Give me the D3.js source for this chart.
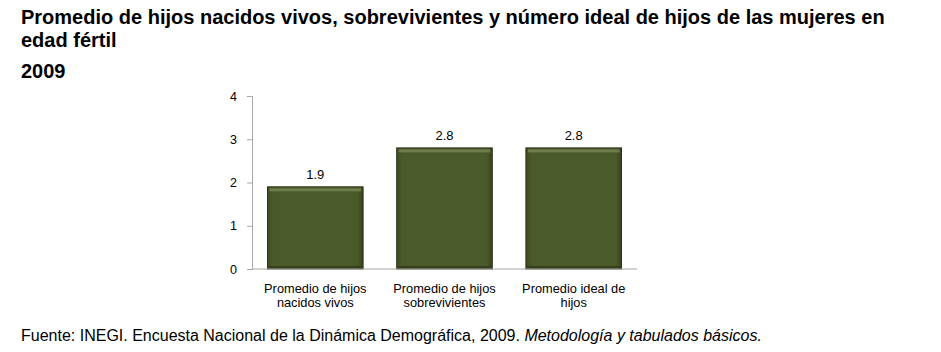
<!DOCTYPE html>
<html>
<head>
<meta charset="utf-8">
<script src="https://cdn.jsdelivr.net/npm/d3@7"></script>
<style>
  body { margin: 0; background: #fff; font-family: "Liberation Sans", Arial, sans-serif; }
  .title { font-weight: bold; font-size: 20px; fill: #000; }
  .tick-label { font-size: 12.5px; fill: #000; }
  .cat-label { font-size: 12.8px; fill: #000; }
  .val-label { font-size: 13px; fill: #000; }
  .source { font-size: 16px; fill: #000; }
</style>
</head>
<body>
<div id="chart"></div>
<script>
const categories = [
  ['Promedio de hijos', 'nacidos vivos'],
  ['Promedio de hijos', 'sobrevivientes'],
  ['Promedio ideal de', 'hijos']
];
const values = [1.9, 2.8, 2.8];
const yTicks = [0, 1, 2, 3, 4];

const width = 941, height = 352;
const margins = { top: 96, right: 304, bottom: 83, left: 252 };

const svg = d3.select('#chart')
  .append('svg')
    .attr('width', width)
    .attr('height', height);

// bevel-ish look for the bars
const defs = svg.append('defs');
const grad = defs.append('linearGradient')
  .attr('id', 'barGrad')
  .attr('x1', 0).attr('y1', 0).attr('x2', 1).attr('y2', 0);
grad.append('stop').attr('offset', '0%').attr('stop-color', '#3d4b22');
grad.append('stop').attr('offset', '6%').attr('stop-color', '#4b5a2b');
grad.append('stop').attr('offset', '94%').attr('stop-color', '#4b5a2b');
grad.append('stop').attr('offset', '100%').attr('stop-color', '#36421d');

// titles
svg.append('text').attr('class', 'title').attr('x', 21).attr('y', 24)
  .text('Promedio de hijos nacidos vivos, sobrevivientes y número ideal de hijos de las mujeres en');
svg.append('text').attr('class', 'title').attr('x', 21).attr('y', 47)
  .text('edad fértil');
svg.append('text').attr('class', 'title').attr('x', 21).attr('y', 78)
  .text('2009');

const x = d3.scaleBand()
  .domain(d3.range(categories.length))
  .range([margins.left, width - margins.right])
  .paddingInner(0.26)
  .paddingOuter(0.12);

const y = d3.scaleLinear()
  .domain([0, 4])
  .range([height - margins.bottom, margins.top]);

// y axis
const yAxis = svg.append('g')
  .attr('transform', `translate(${margins.left},0)`)
  .call(d3.axisLeft(y).tickValues(yTicks).tickSize(5).tickPadding(10).tickFormat(d3.format('d')));
yAxis.select('.domain').attr('stroke', '#a6a6a6');
yAxis.selectAll('.tick line').attr('stroke', '#a6a6a6');
yAxis.selectAll('.tick text').attr('class', 'tick-label').attr('font-family', null).attr('font-size', null);

// bars
const bars = svg.append('g');
values.forEach((v, i) => {
  const bx = x(i), bw = x.bandwidth(), by = y(v), bh = y(0) - y(v);
  bars.append('rect')
    .attr('x', bx).attr('y', by).attr('width', bw).attr('height', bh)
    .attr('fill', 'url(#barGrad)')
    .attr('stroke', '#2c3616').attr('stroke-width', 1);
  // top highlight
  bars.append('rect')
    .attr('x', bx + 2).attr('y', by + 1.5).attr('width', bw - 4).attr('height', 3)
    .attr('fill', '#6f7d4c');
  // bottom shade
  bars.append('rect')
    .attr('x', bx + 1).attr('y', by + bh - 3).attr('width', bw - 2).attr('height', 2.5)
    .attr('fill', '#333f1b');
  svg.append('text')
    .attr('class', 'val-label')
    .attr('x', bx + bw / 2)
    .attr('y', by - 8)
    .attr('text-anchor', 'middle')
    .text(d3.format('.1f')(v));
});

// x axis line
const baseY = y(0);
svg.append('line')
  .attr('x1', margins.left).attr('x2', width - margins.right)
  .attr('y1', baseY).attr('y2', baseY)
  .attr('stroke', '#a6a6a6');

// category labels
categories.forEach((lines, i) => {
  const t = svg.append('text')
    .attr('class', 'cat-label')
    .attr('text-anchor', 'middle')
    .attr('x', x(i) + x.bandwidth() / 2)
    .attr('y', baseY + 24);
  lines.forEach((l, j) => {
    t.append('tspan')
      .attr('x', x(i) + x.bandwidth() / 2)
      .attr('dy', j === 0 ? 0 : 14)
      .text(l);
  });
});

// source
const src = svg.append('text').attr('class', 'source').attr('x', 21).attr('y', 341);
src.append('tspan').text('Fuente: INEGI. Encuesta Nacional de la Dinámica Demográfica, 2009. ');
src.append('tspan').attr('font-style', 'italic').text('Metodología y tabulados básicos.');
</script>
</body>
</html>
